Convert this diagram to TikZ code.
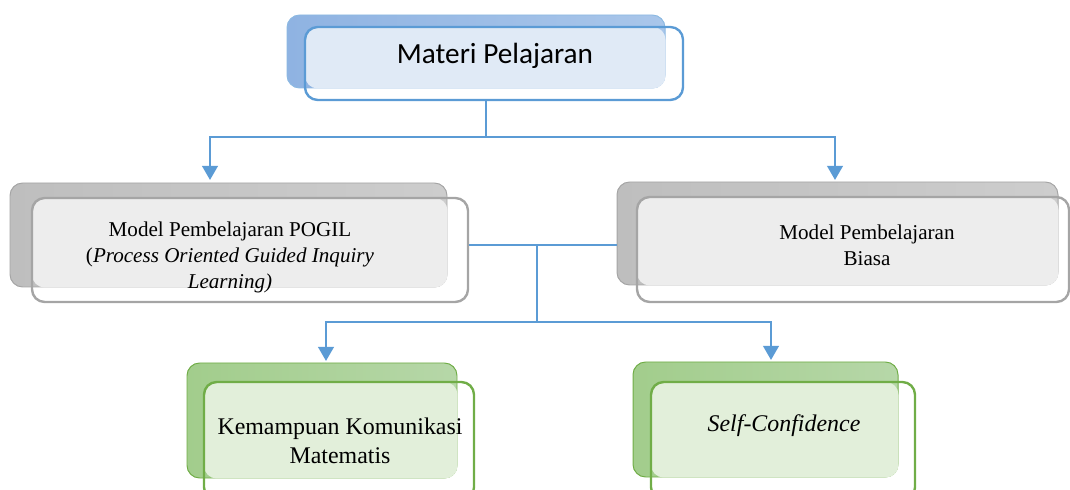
\documentclass[tikz,border=0pt]{standalone}
\usepackage{fontspec}
\setmainfont{Liberation Serif}
\newfontfamily\titlefont{Carlito}
\usetikzlibrary{arrows.meta,fit}

\definecolor{lineblue}{HTML}{5B9BD5}
\definecolor{backblue}{HTML}{A9C6EA}
\definecolor{backblueL}{HTML}{8FB3E2}
\definecolor{lightblue}{HTML}{E0EAF6}
\definecolor{linegray}{HTML}{A5A5A5}
\definecolor{backgray}{HTML}{CDCDCD}
\definecolor{backgrayL}{HTML}{BEBEBE}
\definecolor{lightgray}{HTML}{EDEDED}
\definecolor{linegreen}{HTML}{70AD47}
\definecolor{backgreen}{HTML}{B6D7A8}
\definecolor{backgreenL}{HTML}{A2CD8C}
\definecolor{lightgreen}{HTML}{E2EFDA}

\tikzset{
  conn/.style={draw=lineblue, line width=1.8pt},
  tip/.style={-{Triangle[width=11pt,length=10pt]}},
  backbox/.style={rounded corners=9pt, inner sep=0pt, line width=0.7pt},
  frontbox/.style={rounded corners=9pt, inner sep=0pt, line width=1.7pt},
  boxtext/.style={align=center, font=\fontsize{15}{18.5}\selectfont},
  greentext/.style={align=center, font=\fontsize{17}{20.6}\selectfont}
}

\begin{document}
\begin{tikzpicture}[x=0.025cm,y=-0.025cm]
  \clip (0,0) rectangle (1070,490);

  % top box
  \node[backbox, left color=backblueL, right color=backblue, draw=lineblue!70, fit={(287,15) (665,88)}] (topback) {};
  \fill[lightblue, rounded corners=9pt] (305,27) rectangle (topback.south east);
  \node[frontbox, draw=lineblue, fit={(305,27) (683,100)}] (topfront) {};
  \node[font=\titlefont\fontsize{20.8}{25}\selectfont] (toptext) at (495,56) {Materi Pelajaran};

  % middle boxes
  \node[backbox, left color=backgrayL, right color=backgray, draw=linegray, fit={(10,183) (447,287)}] (pogilback) {};
  \fill[lightgray, rounded corners=9pt] (32,198) rectangle (pogilback.south east);
  \node[frontbox, draw=linegray, fit={(32,198) (468,302)}] (pogilfront) {};
  \node[boxtext] (pogiltext) at (230,257)
    {Model Pembelajaran POGIL\\(\textit{Process Oriented Guided Inquiry}\\\textit{Learning)}};

  \node[backbox, left color=backgrayL, right color=backgray, draw=linegray, fit={(617,182) (1058,285)}] (biasaback) {};
  \fill[lightgray, rounded corners=9pt] (637,197) rectangle (biasaback.south east);
  \node[frontbox, draw=linegray, fit={(637,197) (1069,302)}] (biasafront) {};
  \node[boxtext] (biasatext) at (867,245) {Model Pembelajaran\\Biasa};

  % bottom boxes
  \node[backbox, left color=backgreenL, right color=backgreen, draw=linegreen, fit={(187,363) (457,478)}] (komback) {};
  \fill[lightgreen, rounded corners=9pt] (204,382) rectangle (komback.south east);
  \node[frontbox, draw=linegreen, fit={(204,382) (474,500)}] (komfront) {};
  \node[greentext] (komtext) at (340,441) {Kemampuan Komunikasi\\Matematis};

  \node[backbox, left color=backgreenL, right color=backgreen, draw=linegreen, fit={(633,362) (898,477)}] (selfback) {};
  \fill[lightgreen, rounded corners=9pt] (651,382) rectangle (selfback.south east);
  \node[frontbox, draw=linegreen, fit={(651,382) (915,500)}] (selffront) {};
  \node[greentext] (selftext) at (784,426) {\textit{Self-Confidence}};

  % connectors
  \coordinate (split1) at (486,137);
  \coordinate (inpogil) at (210,180);
  \coordinate (inbiasa) at (835,180);
  \draw[conn] (split1 |- topfront.south) -- (split1);
  \draw[conn,tip] (split1) -| (inpogil);
  \draw[conn,tip] (split1) -| (inbiasa);

  \coordinate (midL) at (pogilfront.east |- 0,245);
  \coordinate (midR) at (biasaback.west |- 0,245);
  \coordinate (split2) at (537,245);
  \coordinate (split3) at (537,322);
  \coordinate (inkom) at (326,361);
  \coordinate (inself) at (771,360);
  \draw[conn] (midL) -- (midR);
  \draw[conn] (split2) -- (split3);
  \draw[conn,tip] (split3) -| (inkom);
  \draw[conn,tip] (split3) -| (inself);
\end{tikzpicture}
\end{document}
